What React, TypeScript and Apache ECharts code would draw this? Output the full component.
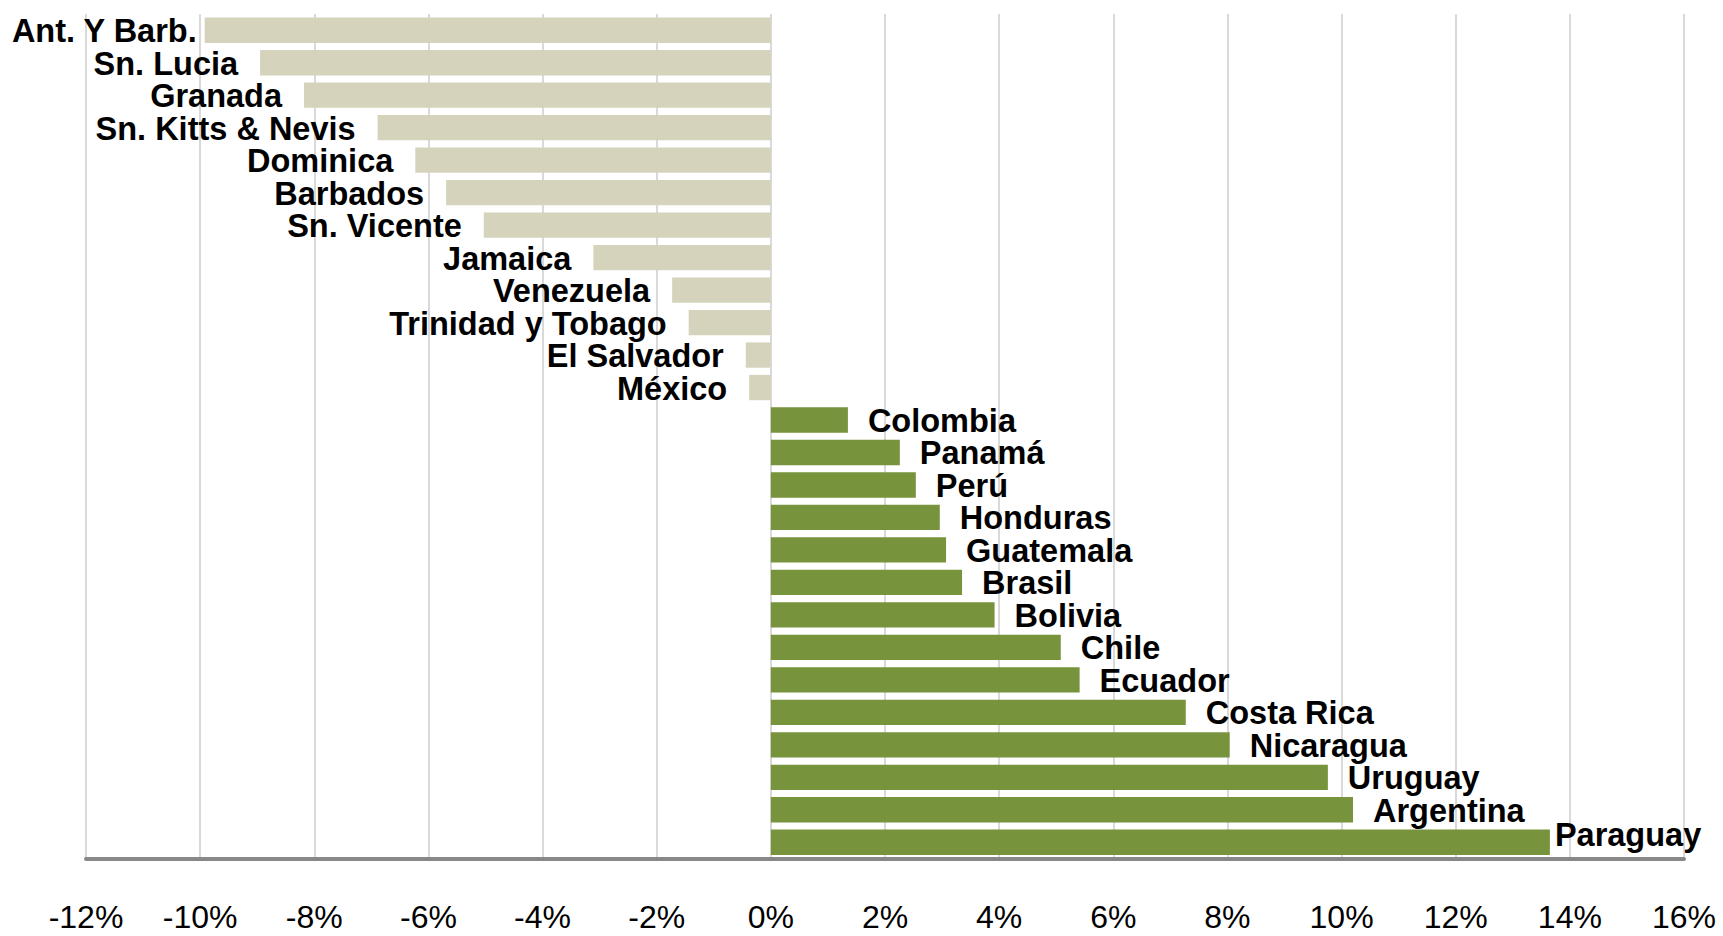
import React, { useEffect, useRef } from "react";
import * as echarts from "echarts";

const countries = [
  "Ant. Y Barb.", "Sn. Lucia", "Granada", "Sn. Kitts & Nevis", "Dominica", "Barbados",
  "Sn. Vicente", "Jamaica", "Venezuela", "Trinidad y Tobago", "El Salvador", "México",
  "Colombia", "Panamá", "Perú", "Honduras", "Guatemala", "Brasil", "Bolivia", "Chile",
  "Ecuador", "Costa Rica", "Nicaragua", "Uruguay", "Argentina", "Paraguay",
];
const values = [
  -9.92, -8.95, -8.18, -6.89, -6.23, -5.69, -5.03, -3.11, -1.73, -1.44, -0.44, -0.38,
  1.35, 2.26, 2.54, 2.96, 3.07, 3.35, 3.92, 5.08, 5.41, 7.27, 8.04, 9.76, 10.2, 13.65,
];
const axisMin = -12;
const axisMax = 16;
const axisStep = 2;

const NEG_COLOR = "#d6d3bc";
const POS_COLOR = "#77933c";
const FONT = '"Liberation Sans", Arial, sans-serif';

export default function App() {
  const ref = useRef<HTMLDivElement>(null);
  useEffect(() => {
    if (!ref.current) return;
    const chart = echarts.init(ref.current, null, { renderer: "svg" });
    const data = values.map((v, i) => {
      const name = countries[i];
      let distance = v < 0 ? 22 : 20;
      let offset: number[] = [0, 1];
      if (name === "Ant. Y Barb.") distance = 8;
      if (name === "Paraguay") {
        distance = 5;
        offset = [0, -7];
      }
      return {
        value: v,
        itemStyle: { color: v < 0 ? NEG_COLOR : POS_COLOR },
        label: {
          show: true,
          position: v < 0 ? "left" : "right",
          distance,
          offset,
        },
      };
    });
    chart.setOption({
      animation: false,
      backgroundColor: "#ffffff",
      grid: { left: 86, right: 39, top: 14, bottom: 77.5, containLabel: false },
      xAxis: {
        type: "value",
        min: axisMin,
        max: axisMax,
        interval: axisStep,
        axisLine: { show: true, onZero: false, lineStyle: { color: "#888888", width: 4 } },
        axisTick: { show: false },
        splitLine: { show: true, lineStyle: { color: "#d9d9d9", width: 2 } },
        axisLabel: {
          formatter: (v: number) => `${v}%`,
          color: "#000000",
          fontFamily: FONT,
          fontSize: 32,
          lineHeight: 28,
          margin: 44,
        },
      },
      yAxis: {
        type: "category",
        data: countries,
        inverse: true,
        axisLine: { show: false },
        axisTick: { show: false },
        axisLabel: { show: false },
        splitLine: { show: false },
      },
      series: [
        {
          type: "bar",
          data,
          barCategoryGap: "22%",
          label: {
            formatter: (p: any) => p.name,
            color: "#000000",
            fontFamily: FONT,
            fontWeight: "bold",
            fontSize: 32.5,
            lineHeight: 27,
          },
        },
      ],
    });
    return () => chart.dispose();
  }, []);
  return (
    <div
      ref={ref}
      style={{ position: "fixed", left: 0, top: 0, width: 1723, height: 936, background: "#fff" }}
    />
  );
}
